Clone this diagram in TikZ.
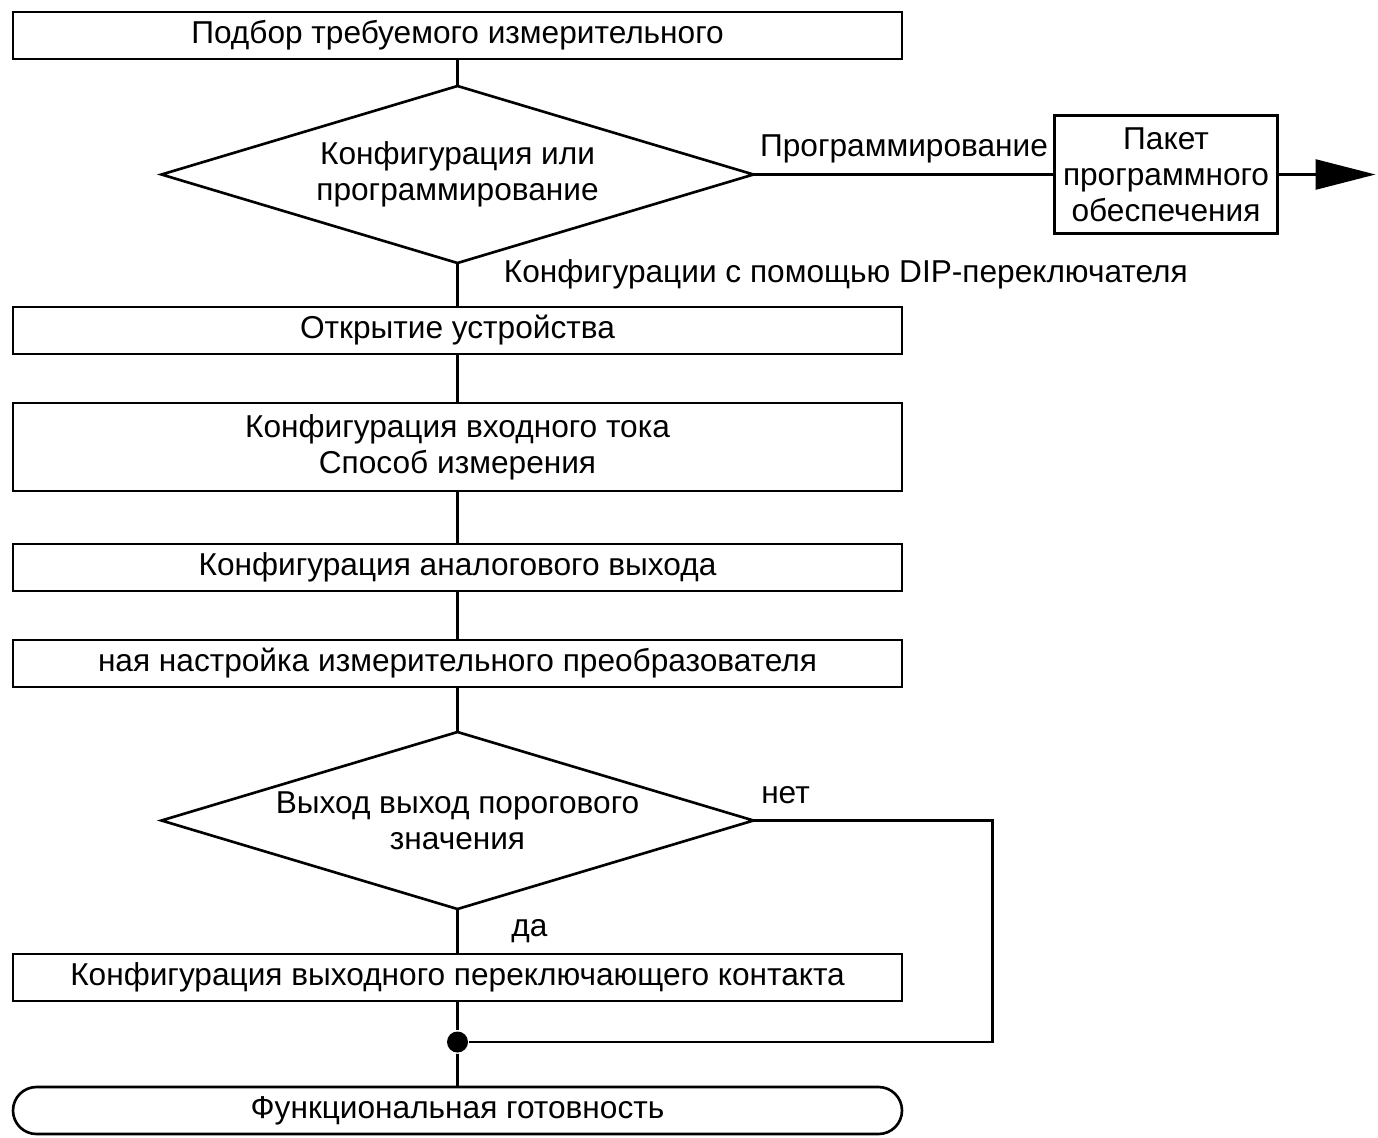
\documentclass[tikz,border=0pt]{standalone}
\usepackage{fontspec}
\setmainfont{Liberation Sans}
\usetikzlibrary{arrows.meta,positioning,shapes.geometric,shapes.misc}

\begin{document}
\begin{tikzpicture}[
  line width=1.5pt,
  font=\fontsize{18}{20.5}\selectfont,
  box/.style={draw=black, align=center, inner sep=0pt, outer sep=0pt, minimum width=17.78cm, minimum height=0.94cm},
  decision/.style={draw=black, diamond, aspect=3.34, align=center, inner sep=0pt, outer sep=0pt, minimum width=11.84cm, minimum height=3.54cm},
  pack/.style={draw=black, align=center, inner sep=0pt, outer sep=0pt, minimum width=4.46cm, minimum height=2.36cm},
  term/.style={draw=black, rounded rectangle, inner sep=0pt, outer sep=0pt, minimum width=17.78cm, minimum height=0.94cm},
  lbl/.style={inner sep=0pt},
  junction/.style={circle, fill=black, inner sep=0pt, minimum size=0.42cm}
]
\useasboundingbox (0,0) rectangle (27.56,-22.74);

% Main column
\node[box] (select) at (9.15,-0.71) {Подбор требуемого измерительного};
\node[decision, below=0.54cm of select] (mode) {Конфигурация или\\программирование};
\node[box, below=0.88cm of mode] (open) {Открытие устройства};
\node[box, minimum height=1.76cm, below=0.98cm of open] (input) {Конфигурация входного тока\\Способ измерения};
\node[box, below=1.06cm of input] (analog) {Конфигурация аналогового выхода};
\node[box, below=0.98cm of analog] (tune) {ная настройка измерительного преобразователя};
\node[decision, below=0.9cm of tune] (limit) {Выход выход порогового\\значения};
\node[box, below=0.9cm of limit] (relay) {Конфигурация выходного переключающего контакта};
\node[junction] (join) at ([yshift=-0.82cm]relay.south) {};
\node[term, below=1.72cm of relay] (ready) {Функциональная готовность};

% Software branch
\node[pack, right=6.02cm of mode] (software) {Пакет\\программного\\обеспечения};
\coordinate[right=1.96cm of software] (out);

% Labels
\node[lbl, anchor=west, xshift=0.9cm, yshift=-0.22cm] (dip) at (mode.south) {Конфигурации с помощью DIP-переключателя};
\node[lbl, xshift=0.64cm, yshift=0.5cm] (no) at (limit.east) {нет};
\node[lbl, xshift=1.44cm, yshift=-0.44cm] (yes) at (limit.south) {да};

% Connections
\draw (select) -- (mode);
\draw (mode) -- node[above, inner sep=0.21cm] {Программирование} (software);
\draw[-{Triangle[length=1.2cm, width=0.6cm]}] (software) -- (out);
\draw (mode) -- (open);
\draw (open) -- (input);
\draw (input) -- (analog);
\draw (analog) -- (tune);
\draw (tune) -- (limit);
\draw (limit) -- (relay);
\draw (relay) -- (join);
\draw (join) -- (ready);
\draw (limit.east) -- ++(4.78,0) |- (join);

\end{tikzpicture}
\end{document}
